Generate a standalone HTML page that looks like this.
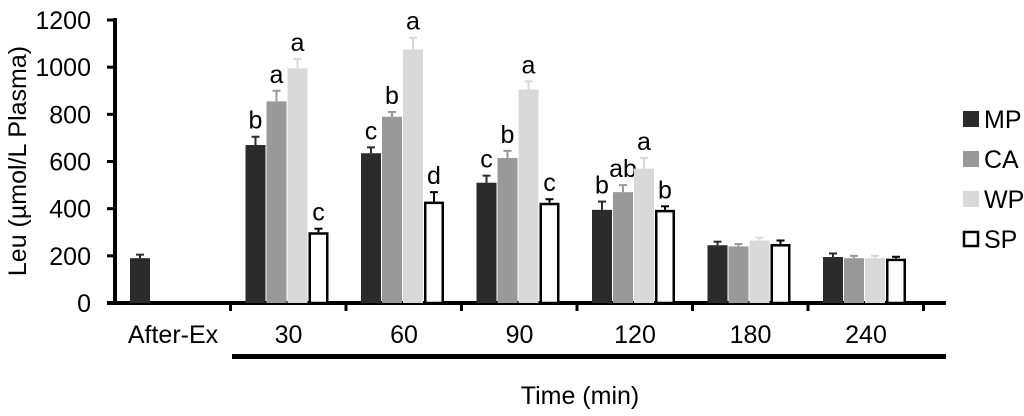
<!DOCTYPE html>
<html><head><meta charset="utf-8"><style>
body{margin:0;background:#fff}
svg{display:block;font-family:"Liberation Sans",Arial,sans-serif}
</style></head><body>
<svg id="chart" width="1024" height="416">
<g id="axes"></g><g id="bars"></g><g id="legend"></g>
</svg>
<script>
const categories=["After-Ex","30","60","90","120","180","240"];
const seriesNames=["MP","CA","WP","SP"];
const mpVals=[190,670,635,510,395,245,195];
const caVals=[null,855,790,615,470,240,190];
const wpVals=[null,995,1075,905,570,265,190];
const spVals=[null,300,430,425,395,250,188];
const mpErr=[15,35,25,30,35,15,15];
const caErr=[0,45,20,30,30,10,10];
const wpErr=[0,40,50,35,45,12,10];
const spErr=[0,15,40,15,15,15,8];
const mpLetters=["","b","c","c","b","",""];
const caLetters=["","a","b","b","ab","",""];
const wpLetters=["","a","a","a","a","",""];
const spLetters=["","c","d","c","b","",""];
const yTicks=[0,200,400,600,800,1000,1200];

const NS="http://www.w3.org/2000/svg";
function mk(tag,attrs,parent,text){const e=document.createElementNS(NS,tag);for(const k in attrs)e.setAttribute(k,attrs[k]);if(text!=null)e.textContent=text;parent.appendChild(e);return e;}
const y=v=>303-v*(283/1200);
const GW=115.5;
const xc=i=>173+i*GW;
const FS=25;
const axes=document.getElementById('axes'),bars=document.getElementById('bars'),legend=document.getElementById('legend');

let ax=mk('line',{x1:115,y1:18,x2:115,y2:305,stroke:'#000','stroke-width':4},axes);

ax=mk('line',{x1:107,y1:303,x2:946,y2:303,stroke:'#000','stroke-width':4},axes);

yTicks.forEach(t=>{
 let l=mk('line',{x1:107,x2:115,y1:y(t),y2:y(t),stroke:'#000','stroke-width':3},axes);
 
 let tx=mk('text',{x:91,y:y(t)+9,'text-anchor':'end','font-size':FS},axes,t);
 
});
categories.forEach((c,i)=>{
 let l=mk('line',{x1:115+(i+1)*GW,x2:115+(i+1)*GW,y1:303,y2:311,stroke:'#000','stroke-width':3},axes);
 
 let tx=mk('text',{x:xc(i),y:343,'text-anchor':'middle','font-size':FS},axes,c);
 
});
let tl=mk('rect',{x:232,y:354,width:714,height:5,fill:'#000'},axes);

let xt=mk('text',{x:580,y:404,'text-anchor':'middle','font-size':FS},axes,'Time (min)');

let yt=mk('text',{x:0,y:0,'text-anchor':'middle','font-size':FS,transform:'translate(26,161) rotate(-90)'},axes,'Leu (µmol/L Plasma)');


const vals=[mpVals,caVals,wpVals,spVals],errs=[mpErr,caErr,wpErr,spErr],lets=[mpLetters,caLetters,wpLetters,spLetters];
const fills=['#2b2b2b','#999999','#d9d9d9','#ffffff'],errC=['#2b2b2b','#999999','#d9d9d9','#000'];
categories.forEach((c,i)=>{
 vals.forEach((arr,s)=>{
  const v=arr[i];if(v==null)return;
  const x0=xc(i)-43+s*21;
  const e=errs[s][i];
  let el=mk('line',{x1:x0+10,x2:x0+10,y1:y(v),y2:y(v+e),stroke:errC[s],'stroke-width':2},bars);
  
  el=mk('line',{x1:x0+6,x2:x0+14,y1:y(v+e),y2:y(v+e),stroke:errC[s],'stroke-width':2},bars);
  
  let r;
  if(s===3) r=mk('rect',{x:x0+1.25,y:y(v)+1.25,width:17.5,height:303-y(v)-1.25,fill:'#fff',stroke:'#000','stroke-width':2.5},bars);
  else r=mk('rect',{x:x0,y:y(v),width:20,height:303-y(v),fill:fills[s]},bars);
  
  const L=lets[s][i];
  if(L){let t=mk('text',{x:x0+10,y:y(v+e)-8,'text-anchor':'middle','font-size':FS},bars,L);
   }
 });
});
seriesNames.forEach((n,s)=>{
 const yy=111+s*40;
 let r=s===3?mk('rect',{x:964,y:yy+1,width:14,height:14,fill:'#fff',stroke:'#000','stroke-width':2.5},legend)
  :mk('rect',{x:963,y:yy,width:16,height:16,fill:fills[s]},legend);
 
 let t=mk('text',{x:984,y:yy+17,'font-size':FS},legend,n);
 
});
</script>
</body></html>
